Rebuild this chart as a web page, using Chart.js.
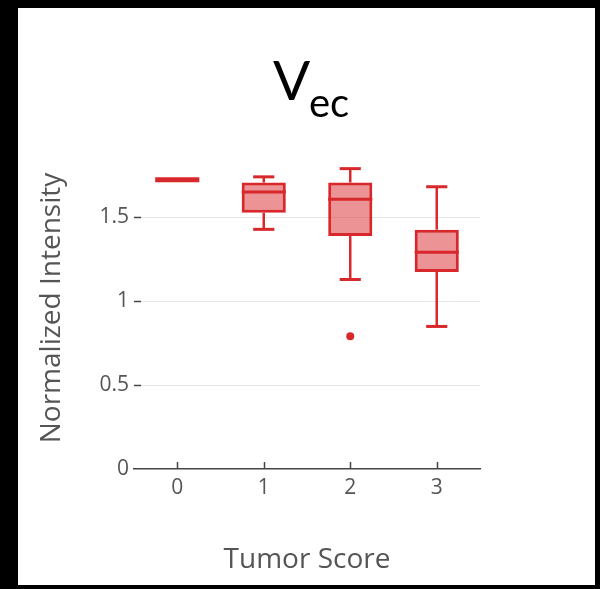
<!DOCTYPE html>
<html>
<head>
<meta charset="utf-8">
<script src="https://cdn.jsdelivr.net/npm/chart.js@4"></script>
<style>
  html, body { margin: 0; padding: 0; background: #000; width: 600px; height: 589px; overflow: hidden; }
  #panel { position: absolute; left: 18px; top: 8px; width: 577px; height: 577px; background: #fff; }
  #wrap { position: absolute; left: 0; top: 0; width: 600px; height: 589px; }
</style>
</head>
<body>
<div id="panel"></div>
<div id="wrap"><canvas id="c" width="600" height="589"></canvas></div>
<script>
// Tumor score groups and box statistics of normalized intensity
const categories = ['0', '1', '2', '3'];
const whiskerLow  = [1.724, 1.429, 1.130, 0.850];
const quartile1   = [1.724, 1.528, 1.389, 1.175];
const median      = [1.724, 1.651, 1.609, 1.292];
const quartile3   = [1.724, 1.708, 1.708, 1.427];
const whiskerHigh = [1.724, 1.742, 1.791, 1.683];
const outliers    = [null, null, 0.791, null];

const RED = 'rgb(216, 40, 44)';
const RED_FILL = 'rgba(216, 40, 44, 0.5)';
const AXIS_GREY = '#444';
const TEXT_GREY = '#555';

// whiskers, caps, medians, inside tick marks and the subscripted heading
const boxDetails = {
  id: 'boxDetails',
  afterDatasetsDraw(chart) {
    const ctx = chart.ctx;
    const xs = chart.scales.x, ys = chart.scales.y;
    const meta = chart.getDatasetMeta(0);
    ctx.save();
    ctx.strokeStyle = RED;
    ctx.lineCap = 'butt';
    categories.forEach((c, i) => {
      const cx = xs.getPixelForValue(i);
      const half = meta.data[i].width / 2;
      const capHalf = half * 0.48;
      const yLo = ys.getPixelForValue(whiskerLow[i]);
      const yQ1 = ys.getPixelForValue(quartile1[i]);
      const yMed = ys.getPixelForValue(median[i]);
      const yQ3 = ys.getPixelForValue(quartile3[i]);
      const yHi = ys.getPixelForValue(whiskerHigh[i]);
      ctx.lineWidth = 2.5;
      if (yHi < yQ3) { ctx.beginPath(); ctx.moveTo(cx, yQ3); ctx.lineTo(cx, yHi); ctx.stroke(); }
      if (yLo > yQ1) { ctx.beginPath(); ctx.moveTo(cx, yQ1); ctx.lineTo(cx, yLo); ctx.stroke(); }
      ctx.lineWidth = 3;
      if (yHi < yQ3) { ctx.beginPath(); ctx.moveTo(cx - capHalf, yHi); ctx.lineTo(cx + capHalf, yHi); ctx.stroke(); }
      if (yLo > yQ1) { ctx.beginPath(); ctx.moveTo(cx - capHalf, yLo); ctx.lineTo(cx + capHalf, yLo); ctx.stroke(); }
      ctx.lineWidth = (quartile1[i] === quartile3[i]) ? 5 : 3;
      ctx.beginPath(); ctx.moveTo(cx - half, yMed); ctx.lineTo(cx + half, yMed); ctx.stroke();
    });
    ctx.restore();
  },
  afterDraw(chart) {
    const ctx = chart.ctx;
    const xs = chart.scales.x, ys = chart.scales.y;
    const area = chart.chartArea;
    ctx.save();
    ctx.strokeStyle = AXIS_GREY;
    ctx.lineWidth = 1.5;
    // tick marks pointing into the plot
    categories.forEach((c, i) => {
      const x = Math.round(xs.getPixelForValue(i)) + 0.5;
      ctx.beginPath(); ctx.moveTo(x, area.bottom); ctx.lineTo(x, area.bottom - 7); ctx.stroke();
    });
    ys.ticks.forEach(t => {
      if (t.value === 0) return;
      const y = Math.round(ys.getPixelForValue(t.value)) + 0.5;
      ctx.beginPath(); ctx.moveTo(area.left, y); ctx.lineTo(area.left + 7, y); ctx.stroke();
    });
    // heading: V with subscript ec
    ctx.fillStyle = '#000';
    ctx.textBaseline = 'alphabetic';
    ctx.textAlign = 'left';
    ctx.font = '55px Lato';
    ctx.fillText('V', 273, 100);
    ctx.font = '40px Lato';
    ctx.fillText('ec', 309, 117);
    ctx.restore();
  }
};

new Chart(document.getElementById('c'), {
  type: 'bar',
  data: {
    labels: categories,
    datasets: [
      {
        type: 'bar',
        data: categories.map((c, i) => [quartile1[i], quartile3[i]]),
        backgroundColor: RED_FILL,
        borderColor: RED,
        borderWidth: 3,
        borderSkipped: false,
        categoryPercentage: 1,
        barPercentage: 0.51,
        order: 2
      },
      {
        type: 'line',
        data: outliers,
        showLine: false,
        pointRadius: 4,
        pointBackgroundColor: RED,
        pointBorderColor: RED,
        pointBorderWidth: 0,
        order: 1
      }
    ]
  },
  options: {
    responsive: false,
    animation: false,
    devicePixelRatio: 1,
    layout: { padding: { left: 0, top: 147, right: 120, bottom: 0 } },
    plugins: { legend: { display: false }, tooltip: { enabled: false }, title: { display: false } },
    scales: {
      x: {
        type: 'category',
        offset: true,
        grid: { display: true, color: 'rgba(0,0,0,0)', drawTicks: false },
        border: { display: true, color: AXIS_GREY, width: 1.5 },
        ticks: { color: TEXT_GREY, font: { family: 'Open Sans', size: 21 }, padding: 6 },
        title: {
          display: true, text: 'Tumor Score', color: TEXT_GREY,
          font: { family: 'Open Sans', size: 28 }, padding: { top: 0, bottom: 12 }
        },
        afterFit: s => { s.height = 120; }
      },
      y: {
        min: 0,
        max: 1.92,
        ticks: {
          stepSize: 0.5, color: TEXT_GREY, font: { family: 'Open Sans', size: 21 }, padding: 5,
          callback: v => String(v)
        },
        afterBuildTicks: s => { s.ticks = s.ticks.filter(t => Math.abs(t.value * 2 - Math.round(t.value * 2)) < 1e-9); },
        grid: {
          drawTicks: false,
          lineWidth: 1,
          color: c => (c.tick && c.tick.value === 0) ? 'rgba(0,0,0,0)' : '#e6e6e6'
        },
        border: { display: false },
        title: {
          display: true, text: 'Normalized Intensity', color: TEXT_GREY,
          font: { family: 'Open Sans', size: 28 }, padding: { top: 35, bottom: 0 }
        },
        afterFit: s => { s.width = 134; }
      }
    }
  },
  plugins: [boxDetails]
});
</script>
</body>
</html>
